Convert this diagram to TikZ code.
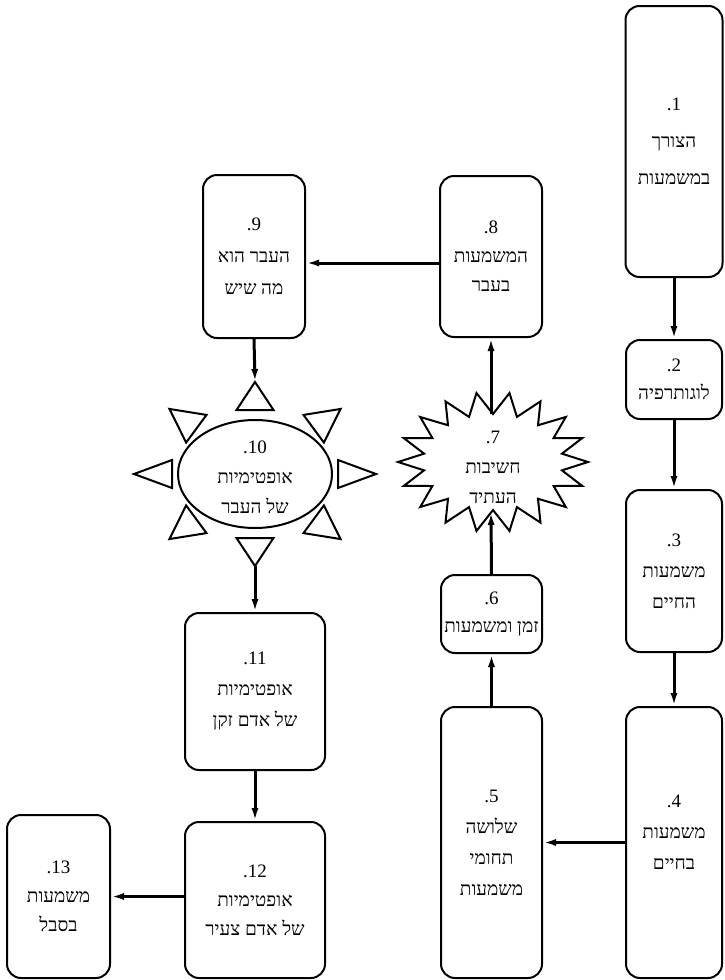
\documentclass[tikz,border=0pt]{standalone}
\usepackage{fontspec}
\setmainfont{Liberation Serif}
\newfontfamily\hebfont[Script=Hebrew,Ligatures=NoCommon]{Liberation Serif}
\TeXXeTstate=1
\newcommand\heb[1]{\beginR#1\endR}
\newcommand\num[1]{{\rmfamily #1}}
\newcommand\zj{\kern0pt }
\usetikzlibrary{arrows.meta,shapes.geometric,calc}
\begin{document}
\begin{tikzpicture}[x=1pt,y=-1pt,
  box/.style={draw, line width=2pt, rounded corners=14pt, inner sep=0pt, align=center,
    font=\hebfont\fontsize{19}{31}\selectfont},
  lbl/.style={inner sep=0pt, align=center, font=\hebfont\fontsize{19}{30}\selectfont},
  arr/.style={line width=3pt, -{Latex[length=13pt,width=7pt]}},
  shapeline/.style={line width=2pt, line join=miter}]
\useasboundingbox (0,0) rectangle (724,980);

% right column
\node[box, minimum width=97pt, minimum height=271pt, font=\hebfont\fontsize{19}{37}\selectfont] (n1) at (674,141.5) {\num{.1}\\\heb{הצורך}\\\heb{במשמעות}};
\node[box, minimum width=96pt, minimum height=79pt, font=\hebfont\fontsize{19}{28}\selectfont] (n2) at (674,379.5) {\num{.2}\\\heb{לוגותרפיה}};
\node[box, minimum width=96pt, minimum height=162pt] (n3) at (674,571) {\num{.3}\\\heb{משמעות}\\\heb{החי\zj ים}};
\node[box, minimum width=96pt, minimum height=271pt] (n4) at (674,842.5) {\num{.4}\\\heb{משמעות}\\\heb{בחי\zj ים}\rule[-20pt]{0pt}{0pt}};

% middle column
\node[box, minimum width=101pt, minimum height=271pt] (n5) at (491.5,842.5) {\num{.5}\\\heb{שלושה}\\\heb{תחומי}\\\heb{משמעות}};
\node[box, minimum width=101pt, minimum height=78pt, font=\hebfont\fontsize{19}{28}\selectfont] (n6) at (491.5,614) {\num{.6}\\\heb{זמן ומשמעות}};
\node[box, minimum width=102pt, minimum height=161pt, font=\hebfont\fontsize{19}{29}\selectfont] (n8) at (491,256.5) {\num{.8}\\\heb{המשמעות}\\\heb{בעבר}};

% star 7
\coordinate (s7) at (493,462);
\draw[shapeline] plot[variable=\i, samples at={0,...,35}]
  ({493+(95-25*mod(\i,2))*cos(\i*10)}, {462+(70-22*mod(\i,2))*sin(\i*10)}) -- cycle;
\node[lbl] (n7) at (493,467) {\num{.7}\\\heb{חשיבות}\\\heb{העתיד}};
\coordinate (s7top) at (491,414);
\coordinate (s7bot) at (491,512);

% left column
\node[box, minimum width=102pt, minimum height=163pt, font=\hebfont\fontsize{19}{32}\selectfont] (n9) at (254,256.5) {\num{.9}\\\heb{העבר הוא}\\\heb{מה שיש}};
\node[ellipse, draw, line width=2pt, minimum width=154pt, minimum height=108pt, inner sep=0pt] (n10) at (255,474) {};
\node[lbl] (n10t) at (255,477) {\num{.10}\\\heb{אופטימיות}\\\heb{של העבר}};
\foreach \a in {0,45,...,315} {
  \pgfmathsetmacro\hw{14+4.5*abs(sin(\a))}
  \coordinate (tb) at ({255+83*cos(\a)},{474+64*sin(\a)});
  \coordinate (ta) at ({255+121*cos(\a)},{474+92*sin(\a)});
  \draw[shapeline] (ta) -- ($(tb)!\hw pt!90:(ta)$) -- ($(tb)!\hw pt!-90:(ta)$) -- cycle;
}
\coordinate (sunN) at (255,382);
\coordinate (sunS) at (255,566);
\node[box, minimum width=140pt, minimum height=157pt] (n11) at (255,691.5) {\num{.11}\\\heb{אופטימיות}\\\heb{של אדם זקן}};
\node[box, minimum width=140pt, minimum height=156pt, font=\hebfont\fontsize{19}{29}\selectfont] (n12) at (255,900) {\num{.12}\\\heb{אופטימיות}\\\heb{של אדם צעיר}};
\node[box, minimum width=103pt, minimum height=163pt, font=\hebfont\fontsize{19}{29}\selectfont] (n13) at (58.5,896.5) {\num{.13}\\\heb{משמעות}\\\heb{בסבל}};

% connectors
\draw[arr] (n1.south) -- (n2.north);
\draw[arr] (n2.south) -- (n3.north);
\draw[arr] (n3.south) -- (n4.north);
\draw[arr] (n4.west) -- (n5.east);
\draw[arr] (n5.north) -- (n6.south);
\draw[arr] (n6.north) -- (s7bot);
\draw[arr] (s7top) -- (n8.south);
\draw[arr] (n8.west |- 0,263) -- (n9.east |- 0,263);
\draw[arr] (n9.south) -- (sunN);
\draw[arr] (sunS) -- (n11.north);
\draw[arr] (n11.south) -- (n12.north);
\draw[arr] (n12.west |- n13.east) -- (n13.east);
\end{tikzpicture}
\end{document}
